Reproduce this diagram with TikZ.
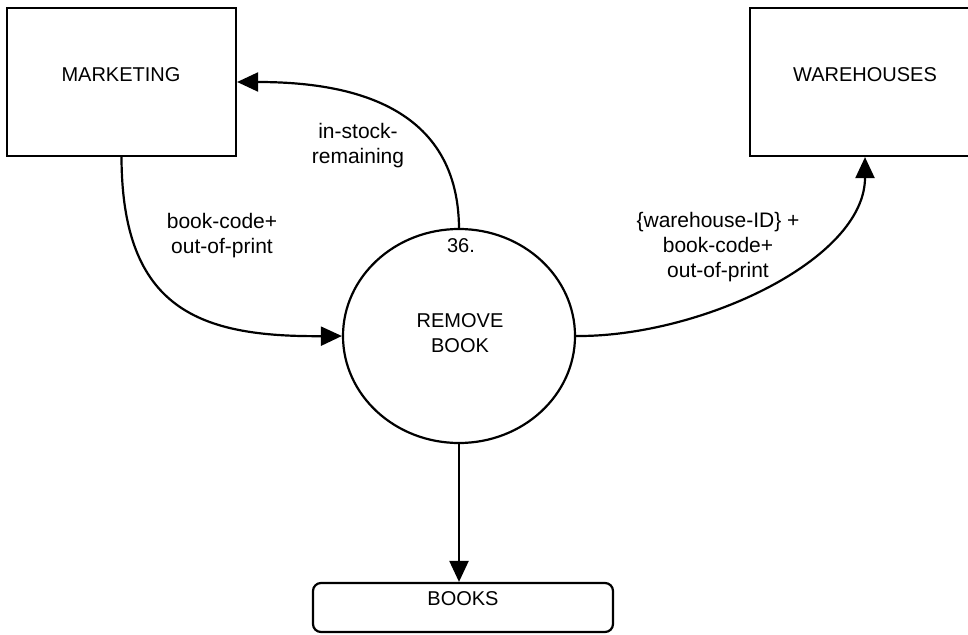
\documentclass[tikz,border=0pt]{standalone}
\usepackage{fontspec}
\setmainfont{Liberation Sans}
\usetikzlibrary{arrows.meta,shapes.geometric}
\begin{document}
\begin{tikzpicture}[x=1pt,y=-1pt,
  line width=2.2pt,
  ent/.style={draw,rectangle,minimum width=229pt,minimum height=148pt,inner sep=0pt},
  proc/.style={draw,ellipse,minimum width=232pt,minimum height=214pt,inner sep=0pt},
  store/.style={draw,rectangle,rounded corners=8pt,minimum width=300pt,minimum height=49pt,inner sep=0pt},
  nm/.style={font=\fontsize{20}{25}\selectfont,align=center,inner sep=0pt},
  lbl/.style={font=\fontsize{21}{25}\selectfont,align=center,inner sep=0pt},
  flow/.style={-{Triangle[length=21pt,width=19pt]}},
]
\useasboundingbox (0,0) rectangle (968,634);
\node[ent] (mkt) at (121.5,82) {};
\node[nm] (mktt) at (121,75) {MARKETING};
\node[ent,minimum width=230pt] (wh) at (865,82) {};
\node[nm] (wht) at (865,75) {WAREHOUSES};
\node[proc] (pr) at (459,336) {};
\node[nm] (prn) at (461,246) {36.};
\node[nm] (prt) at (460,333) {REMOVE\\BOOK};
\node[store] (bk) at (463,607.5) {};
\node[nm] (bkt) at (463,599) {BOOKS};

\draw[flow] (mkt.south) .. controls (122,310) and (200,337) .. (pr.west);
\draw[flow] (pr.north) .. controls (458,100) and (340,82) .. (mkt.east);
\draw[flow] (pr.east) .. controls (700,337) and (865,260) .. (wh.south);
\draw[flow] (pr.south) -- (pr.south |- bk.north);

\node[lbl] (l1) at (358,145.5) {in-stock-\\remaining};
\node[lbl] (l2) at (222,236) {book-code+\\out-of-print};
\node[lbl] (l3) at (718,247) {\{warehouse-ID\} +\\book-code+\\out-of-print};
\end{tikzpicture}
\end{document}
